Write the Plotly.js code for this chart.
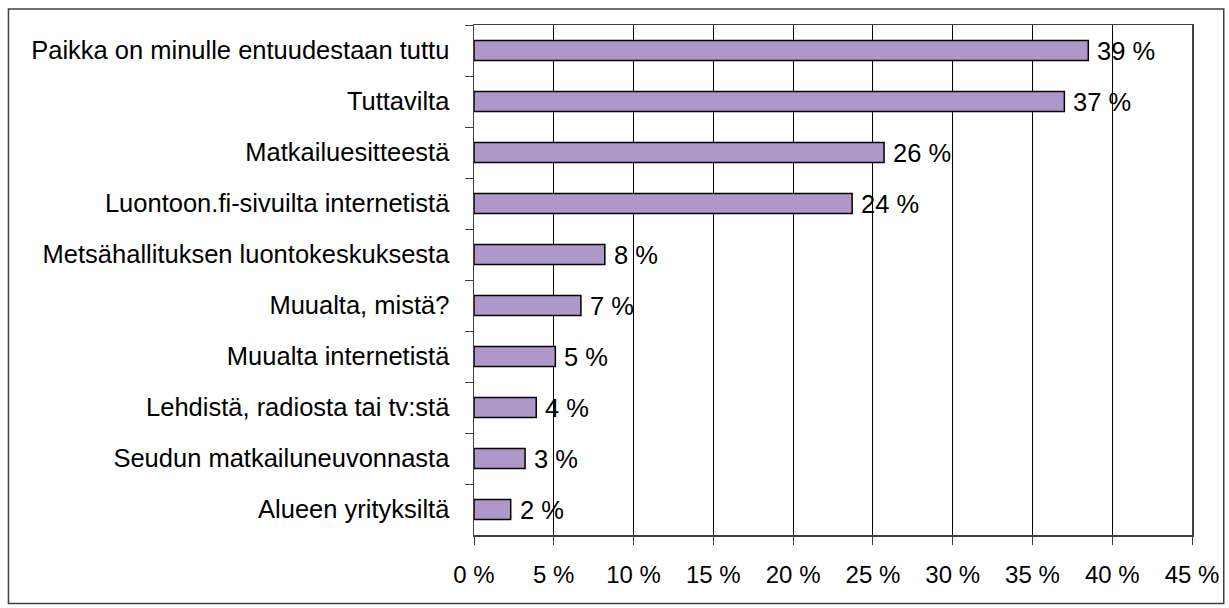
<!DOCTYPE html>
<html>
<head>
<meta charset="utf-8">
<script src="https://cdn.plot.ly/plotly-3.0.1.min.js"></script>
<style>
  html, body { margin: 0; padding: 0; background: #fff; }
  #chart { width: 1229px; height: 608px; }
</style>
</head>
<body>
<div id="chart"></div>
<script>
const categories = [
  "Paikka on minulle entuudestaan tuttu",
  "Tuttavilta",
  "Matkailuesitteestä",
  "Luontoon.fi-sivuilta internetistä",
  "Metsähallituksen luontokeskuksesta",
  "Muualta, mistä?",
  "Muualta internetistä",
  "Lehdistä, radiosta tai tv:stä",
  "Seudun matkailuneuvonnasta",
  "Alueen yrityksiltä"
];
const values = [38.5, 37.0, 25.7, 23.7, 8.2, 6.7, 5.1, 3.9, 3.2, 2.3];
const valueLabels = ["39 %", "37 %", "26 %", "24 %", "8 %", "7 %", "5 %", "4 %", "3 %", "2 %"];
const tickValues = [0, 5, 10, 15, 20, 25, 30, 35, 40, 45];
const tickLabels = ["0 %", "5 %", "10 %", "15 %", "20 %", "25 %", "30 %", "35 %", "40 %", "45 %"];

const font = "Liberation Sans, Arial, sans-serif";

const trace = {
  type: "bar",
  orientation: "h",
  y: categories,
  x: values,
  marker: { color: "#b097c9", line: { color: "#000", width: 1.5 } },
  hoverinfo: "none"
};

const annotations = values.map((v, i) => ({
  x: v, y: categories[i], xref: "x", yref: "y",
  text: valueLabels[i],
  showarrow: false,
  xanchor: "left", yanchor: "middle",
  xshift: 7,
  font: { family: font, size: 25.5, color: "#000" }
}));

const L = 473.5, R = 1192.5, T = 25, B = 535.5;
const W = 1229, H = 608;
const pw = R - L, ph = B - T;

const layout = {
  width: W, height: H,
  margin: { l: L, r: W - R, t: T, b: H - B, pad: 0 },
  paper_bgcolor: "#fff",
  plot_bgcolor: "#fff",
  showlegend: false,
  bargap: 0.61,
  font: { family: font, size: 20, color: "#000" },
  annotations: annotations,
  xaxis: {
    range: [0, 45],
    tickvals: tickValues,
    ticktext: tickLabels,
    ticks: "outside",
    ticklen: 8,
    tickwidth: 1,
    tickcolor: "#404040",
    showgrid: true,
    gridcolor: "#000",
    gridwidth: 1,
    zeroline: false,
    showline: true,
    linecolor: "#404040",
    linewidth: 1.5,
    mirror: true,
    tickfont: { family: font, size: 24, color: "#000" },
    ticklabelstandoff: 10,
    fixedrange: true
  },
  yaxis: {
    type: "category",
    autorange: "reversed",
    tickson: "boundaries",
    ticks: "outside",
    ticklen: 8,
    tickwidth: 1,
    tickcolor: "#404040",
    showgrid: false,
    zeroline: false,
    showline: true,
    linecolor: "#404040",
    linewidth: 1.5,
    mirror: true,
    tickfont: { family: font, size: 25.5, color: "#000" },
    ticklabelstandoff: 18,
    fixedrange: true
  },
  shapes: [{
    type: "rect",
    xref: "paper", yref: "paper",
    x0: (7.3 - L) / pw, x1: (1224.3 - L) / pw,
    y0: (B - 604) / ph, y1: (B - 9) / ph,
    line: { color: "#404040", width: 1.5 },
    fillcolor: "rgba(0,0,0,0)",
    layer: "below"
  }]
};

Plotly.newPlot("chart", [trace], layout, { staticPlot: true, displayModeBar: false });
</script>
</body>
</html>
